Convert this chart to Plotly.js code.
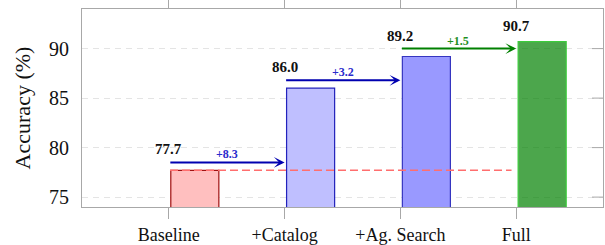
<!DOCTYPE html>
<html>
<head>
<meta charset="utf-8">
<script src="https://cdn.plot.ly/plotly-3.0.1.min.js"></script>
<style>html,body{margin:0;padding:0;background:#fff;}#chart{width:605px;height:245px;}</style>
</head>
<body>
<div id="chart"></div>
<script>
const categories = ["Baseline", "+Catalog", "+Ag. Search", "Full"];
const accuracy = [77.7, 86.0, 89.2, 90.7];
const valueLabels = ["77.7", "86.0", "89.2", "90.7"];
const gainLabels = ["+8.3", "+3.2", "+1.5"];
const yTickVals = [75, 80, 85, 90];

const fillColors = ["#ffbfbf", "#bfbfff", "#9999ff", "rgba(0,128,0,0.7)"];
const lineColors = ["#a01010", "#2222bb", "#3535c0", "#3ccc3c"];
const arrowColors = ["#0000b0", "#0000b0", "#008000"];
const gainColors = ["#2a2acc", "#2a2acc", "#1f8f1f"];

const xs = categories.map((c, i) => i);
const serif = "Liberation Serif";
const plotW = 605 - 82 - 2;

const trace = {
  type: "bar",
  x: xs,
  y: accuracy,
  width: 0.415,
  offset: 0.017,
  marker: { color: fillColors, line: { color: lineColors, width: 1.2 } },
  hoverinfo: "skip"
};

const annotations = [];
xs.forEach((x, i) => {
  annotations.push({
    x: x, y: accuracy[i], xref: "x", yref: "y",
    text: "<b>" + valueLabels[i] + "</b>", showarrow: false,
    yanchor: "middle", xanchor: "center",
    yshift: i === 3 ? 16 : 21,
    font: { family: serif, size: 15, color: "#111" }
  });
});
for (let i = 0; i < 3; i++) {
  const yArrow = accuracy[i] + 0.8;
  annotations.push({
    x: xs[i + 1], y: yArrow, ax: xs[i], ay: yArrow,
    xref: "x", yref: "y", axref: "x", ayref: "y",
    text: "", showarrow: true, arrowhead: 3, arrowsize: 0.9, arrowwidth: 2,
    arrowcolor: arrowColors[i], standoff: 0, startstandoff: 0
  });
  annotations.push({
    x: (xs[i] + xs[i + 1]) / 2, y: yArrow, xref: "x", yref: "y",
    text: "<b>" + gainLabels[i] + "</b>", showarrow: false,
    yanchor: "middle", yshift: 8,
    font: { family: serif, size: 12, color: gainColors[i] }
  });
}

const shapes = [{
  type: "line", xref: "x", yref: "y",
  x0: 0.01, x1: 2.96, y0: accuracy[0], y1: accuracy[0],
  line: { color: "#ff6e6e", width: 1.5, dash: "8px,4px" }
}];
yTickVals.forEach(v => shapes.push({
  type: "line", xref: "paper", yref: "y", layer: "above",
  x0: 1 - 11 / plotW, x1: 1, y0: v, y1: v,
  line: { color: "#a8a8a8", width: 1 }
}));

const layout = {
  width: 605, height: 245,
  margin: { l: 82, r: 2, t: 9, b: 38 },
  paper_bgcolor: "#fff", plot_bgcolor: "#fff",
  showlegend: false,
  xaxis: {
    range: [-0.75, 3.75], tickvals: xs, ticktext: categories,
    showgrid: false, zeroline: false,
    showline: true, linecolor: "#a8a8a8", linewidth: 1, mirror: "ticks",
    ticks: "outside", ticklen: 11, tickcolor: "#a8a8a8", tickwidth: 1,
    tickfont: { family: serif, size: 18, color: "#111" }
  },
  yaxis: {
    range: [74, 94], tickvals: yTickVals, ticktext: yTickVals.map(String),
    showgrid: true, gridcolor: "#e4e4e4", griddash: "6px,5px", gridwidth: 1,
    zeroline: false, showline: true, linecolor: "#a8a8a8", linewidth: 1, mirror: true,
    ticks: "", ticklabelstandoff: 8,
    tickfont: { family: serif, size: 20, color: "#111" },
    title: { text: "Accuracy (%)", standoff: 12, font: { family: serif, size: 22, color: "#111" } }
  },
  shapes: shapes,
  annotations: annotations
};

Plotly.newPlot("chart", [trace], layout, { staticPlot: true, displayModeBar: false });
</script>
</body>
</html>
